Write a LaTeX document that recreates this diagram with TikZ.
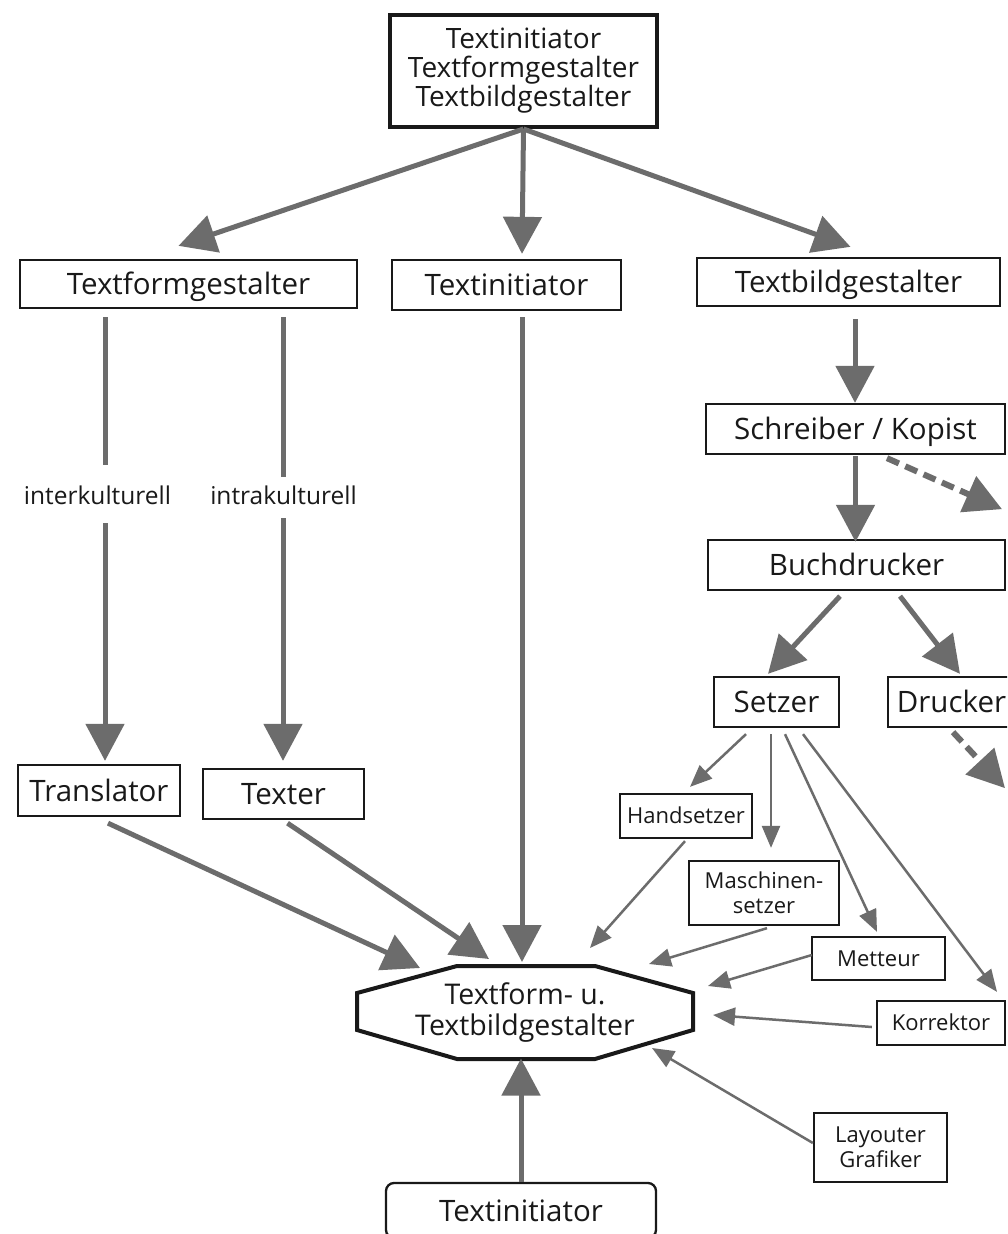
\documentclass[tikz,border=0pt]{standalone}
\usepackage{fontspec}
\setmainfont{Open Sans}
\usetikzlibrary{arrows.meta,calc}
\definecolor{arrowgray}{RGB}{108,108,108}
\definecolor{ink}{RGB}{25,25,25}
\begin{document}
\begin{tikzpicture}[x=1pt,y=-1pt,
  box/.style={draw=ink, line width=2.3pt, inner sep=0pt, text=ink, align=center},
  bigone/.style={font=\fontsize{29.5}{31}\selectfont, text height=21pt, text depth=0pt},
  smallone/.style={font=\fontsize{22}{25}\selectfont, text height=15.7pt, text depth=0pt},
  smalltxt/.style={font=\fontsize{22}{25}\selectfont},
  lbltxt/.style={font=\fontsize{24.5}{26}\selectfont, text=ink},
  bigline/.style={draw=arrowgray, line width=5pt},
  bigarrow/.style={bigline, -{Triangle[length=37pt,width=38pt]}},
  dasharrow/.style={bigarrow, line width=6pt, dash pattern=on 13pt off 7pt},
  thinarrow/.style={draw=arrowgray, line width=2.5pt, -{Triangle[length=22pt,width=18pt]}},
]
\useasboundingbox (0,0) rectangle (1007,1234);
\fill[white] (0,0) rectangle (1007,1234);
\clip (0,0) rectangle (1007,1234);

% boxes
\node[box, line width=4pt, minimum width=267pt, minimum height=112pt,
      font=\fontsize{28}{29}\selectfont] (top) at (523.5,71)
      {Textinitiator\\Textformgestalter\\Textbildgestalter};
\node[box, bigone, minimum width=337pt, minimum height=48pt] (tfg) at (188.5,284) {Textformgestalter};
\node[box, bigone, minimum width=229pt, minimum height=50pt] (ti) at (506.5,285) {Textinitiator};
\node[box, bigone, minimum width=303pt, minimum height=48pt] (tbg) at (848.5,282) {Textbildgestalter};
\node[box, bigone, minimum width=299pt, minimum height=50pt] (sk) at (855.5,429) {Schreiber / Kopist};
\node[box, bigone, minimum width=297pt, minimum height=50pt] (bd) at (856.5,565) {Buchdrucker};
\node[box, bigone, minimum width=125pt, minimum height=50pt] (set) at (776.5,702) {Setzer};
\node[box, bigone, minimum width=127pt, minimum height=50pt] (dr) at (951.5,702) {Drucker};
\node[box, bigone, minimum width=162pt, minimum height=51pt] (tr) at (99,790.5) {Translator};
\node[box, bigone, minimum width=161pt, minimum height=50pt] (tx) at (283.5,794) {Texter};
\node[box, smallone, minimum width=132pt, minimum height=44pt] (hs) at (686,816) {Handsetzer};
\node[box, smalltxt, minimum width=150pt, minimum height=64pt] (ms) at (764,893) {Maschinen-\\setzer};
\node[box, smallone, minimum width=133pt, minimum height=43pt] (mt) at (878.5,958.5) {Metteur};
\node[box, smallone, minimum width=128pt, minimum height=44pt] (ko) at (941,1023) {Korrektor};
\node[box, smalltxt, minimum width=133pt, minimum height=69pt] (lg) at (880.5,1147.5) {Layouter\\Grafiker};
\node[box, bigone, rounded corners=8pt, minimum width=270pt, minimum height=55pt] (bt) at (521,1210.5) {Textinitiator};

% central octagon
\node[align=center, text=ink, font=\fontsize{28.5}{31}\selectfont] (oct) at (525,1012.5)
      {Textform- u.\\Textbildgestalter};
\draw[ink, line width=4pt, line join=miter]
  ($(oct)+(-68,-46.5)$) -- ($(oct)+(70,-46.5)$) -- ($(oct)+(168,-19.5)$) -- ($(oct)+(168,17.5)$)
  -- ($(oct)+(70,46.5)$) -- ($(oct)+(-68,46.5)$) -- ($(oct)+(-168,17.5)$) -- ($(oct)+(-168,-19.5)$) -- cycle;

% labels on the two branches
\node[lbltxt] (inter) at (97.5,495) {interkulturell};
\node[lbltxt] (intra) at (283.5,495) {intrakulturell};

% thick connectors
\draw[bigarrow] (top.south) -- ($(tfg.north)+(-10,-13)$);
\draw[bigarrow] (top.south) -- ($(ti.north)+(15.5,-5)$);
\draw[bigarrow] (top.south) -- ($(tbg.north)+(2,-10)$);

\draw[bigline] ($(tfg.south)+(-83.5,8)$) -- ($(inter)+(7.5,-30)$);
\draw[bigarrow] ($(inter)+(7.5,28)$) -- ($(tr.north)+(6,-3)$);
\draw[bigline] ($(tfg.south)+(94.5,8)$) -- ($(intra)+(-0.5,-18)$);
\draw[bigarrow] ($(intra)+(-0.5,23)$) -- ($(tx.north)+(-0.5,-7)$);

\draw[bigarrow] ($(ti.south)+(15.5,6)$) -- ($(oct)+(-3,-50.5)$);

\draw[bigarrow] ($(tbg.south)+(6.5,12)$) -- ($(sk.north)+(-0.5,0)$);
\draw[bigarrow] ($(sk.south)+(0,1)$) -- ($(bd.north)+(-1,3)$);
\draw[dasharrow] ($(sk.south)+(31.5,3)$) -- ($(sk.south)+(146.5,54)$);
\draw[bigarrow] ($(bd.south)+(-16.5,5)$) -- ($(set.north)+(-8.5,-2)$);
\draw[bigarrow] ($(bd.south)+(43.5,5)$) -- ($(dr.north)+(8.5,-2)$);
\draw[dasharrow] ($(dr.south)+(1.5,4)$) -- ($(dr.south)+(53.5,60)$);

\draw[bigarrow] ($(tr.south)+(9,6)$) -- ($(oct)+(-105,-44.5)$);
\draw[bigarrow] ($(tx.south)+(4,3)$) -- ($(oct)+(-36,-53.5)$);
\draw[bigarrow] (bt.north) -- ($(oct)+(-4,46)$);

% thin connectors from the compositor
\draw[thinarrow] ($(set.south)+(-30.5,6)$) -- ($(hs.north)+(4,-6)$);
\draw[thinarrow] ($(set.south)+(-5.5,6)$) -- ($(ms.north)+(7,-12)$);
\draw[thinarrow] ($(set.south)+(8.5,6)$) -- ($(mt.north)+(-1.5,-4)$);
\draw[thinarrow] ($(set.south)+(26.5,6)$) -- ($(ko.north)+(56,-8)$);

% thin connectors into the octagon
\draw[thinarrow] ($(hs.south)+(-1,2)$) -- ($(oct)+(65,-64.5)$);
\draw[thinarrow] ($(ms.south)+(3,2)$) -- ($(oct)+(124,-48.5)$);
\draw[thinarrow] ($(mt.west)+(1,-3.5)$) -- ($(oct)+(183,-26.5)$);
\draw[thinarrow] ($(ko.west)+(-4,4)$) -- ($(oct)+(188,2.5)$);
\draw[thinarrow] ($(lg.west)+(0,-4.5)$) -- ($(oct)+(127,35.5)$);
\end{tikzpicture}
\end{document}
